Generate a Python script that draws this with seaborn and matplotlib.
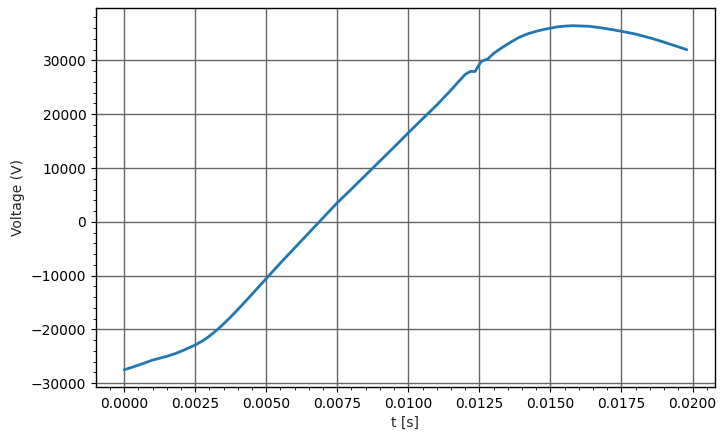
import numpy as np
import pandas as pd
import matplotlib
matplotlib.use("Agg")
import matplotlib.pyplot as plt
import seaborn as sns
from matplotlib.ticker import AutoMinorLocator

# values
t_s = [0.0, 0.0005, 0.001, 0.0015, 0.0018, 0.0021, 0.0025, 0.0028, 0.003, 0.0033,
       0.0037, 0.0041, 0.0045, 0.005, 0.0055, 0.006, 0.0065, 0.007, 0.0075, 0.008,
       0.0085, 0.009, 0.0095, 0.01, 0.0105, 0.011, 0.0115, 0.012, 0.01218, 0.01235,
       0.01256, 0.0128, 0.013, 0.0133, 0.0136, 0.0139, 0.0142, 0.01455, 0.0149, 0.01525,
       0.0155, 0.01578, 0.0161, 0.01636, 0.0168, 0.0172, 0.01752, 0.018, 0.01853, 0.019,
       0.0194, 0.0198]
voltage = [-27500, -26650, -25700, -25000, -24500, -23850, -22900, -22000, -21250, -19950,
           -17950, -15750, -13450, -10550, -7650, -4850, -2050, 750, 3550, 6100,
           8700, 11300, 13900, 16550, 19150, 21700, 24500, 27400, 27950, 27950,
           29800, 30300, 31300, 32400, 33400, 34300, 34950, 35500, 35900, 36250,
           36380, 36460, 36400, 36350, 36050, 35700, 35400, 34900, 34150, 33400,
           32700, 32000]

df = pd.DataFrame({"t": t_s, "V": voltage})

sns.set_style("ticks", {"axes.edgecolor": "black", "xtick.color": "black", "ytick.color": "black"})
plt.rcParams["font.family"] = ["DejaVu Sans"]

fig = plt.figure(figsize=(7.25, 4.4), dpi=100)
ax = fig.add_axes([0.1324, 0.1205, 0.8538, 0.8602])

sns.lineplot(data=df, x="t", y="V", ax=ax, color="#1f77b4", linewidth=2)

ax.set_xlabel("t [s]")
ax.set_ylabel("Voltage (V)")
ax.xaxis.set_minor_locator(AutoMinorLocator())
ax.yaxis.set_minor_locator(AutoMinorLocator())
ax.grid(True, which="major", color="#666666", linewidth=1)
ax.set_axisbelow(True)
ax.margins(x=0.05, y=0.05)
for s in ax.spines.values():
    s.set_linewidth(1.0)

fig.savefig("out.png", dpi=100)
